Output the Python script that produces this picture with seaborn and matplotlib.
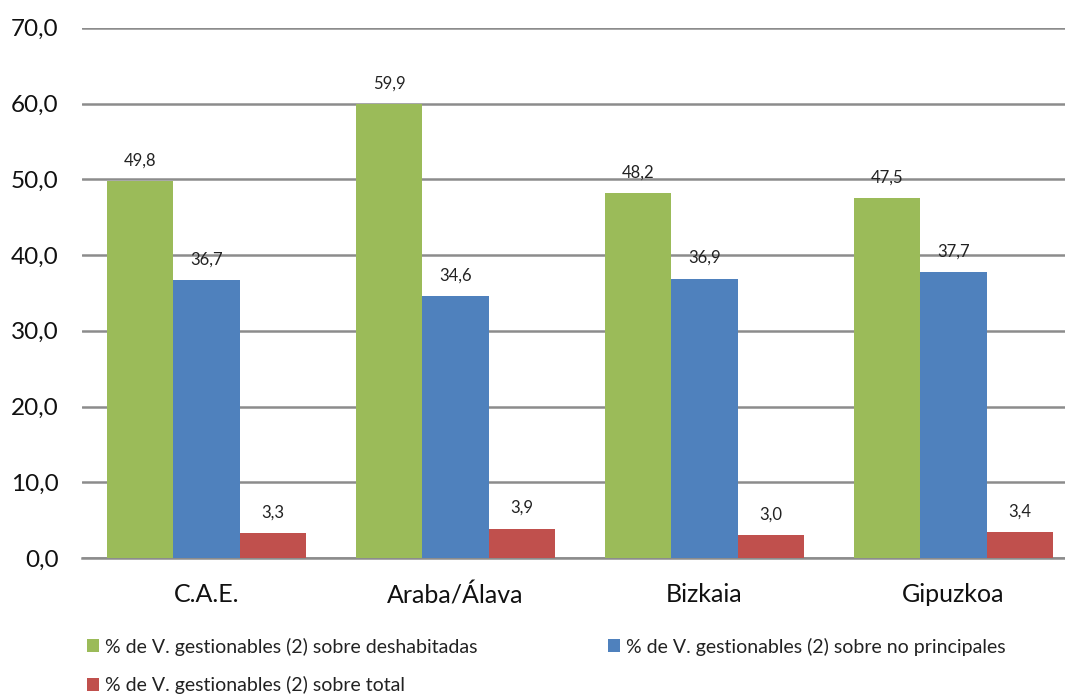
import matplotlib
matplotlib.use("Agg")
import matplotlib.pyplot as plt
import seaborn as sns
import pandas as pd
from matplotlib.patches import Patch

categories = ["C.A.E.", "Araba/Álava", "Bizkaia", "Gipuzkoa"]
series_names = [
    "% de V. gestionables (2) sobre deshabitadas",
    "% de V. gestionables (2) sobre no principales",
    "% de V. gestionables (2) sobre total",
]
deshabitadas = [49.8, 59.9, 48.2, 47.5]
no_principales = [36.7, 34.6, 36.9, 37.7]
total = [3.3, 3.9, 3.0, 3.4]
y_ticks = [0, 10, 20, 30, 40, 50, 60, 70]
colors = ["#9BBB59", "#4F81BD", "#C0504D"]

rows = []
for name, vals in zip(series_names, [deshabitadas, no_principales, total]):
    for c, v in zip(categories, vals):
        rows.append({"region": c, "serie": name, "valor": v})
df = pd.DataFrame(rows)

sns.set_theme(style="white")
plt.rcParams["font.family"] = ["Lato", "DejaVu Sans"]

fig = plt.figure(figsize=(10.65, 6.95), dpi=100)
ax = fig.add_axes([0.077, 0.197, 0.935, 0.763])

sns.barplot(data=df, x="region", y="valor", hue="serie", order=categories,
            hue_order=series_names, palette=colors, width=0.8, gap=0,
            saturation=1, legend=False, ax=ax, errorbar=None, zorder=3,
            linewidth=0, edgecolor="none")

for cont in ax.containers:
    ax.bar_label(cont, labels=[f"{b.get_height():.1f}".replace(".", ",") for b in cont],
                 padding=9, fontsize=12, color="#222222")

ax.set_xlim(-0.5, 3.5)
ax.set_ylim(0, 70)
ax.set_yticks(y_ticks)
ax.set_yticklabels([f"{t:.1f}".replace(".", ",") for t in y_ticks], fontsize=17.5)
ax.tick_params(axis="x", labelsize=18, pad=18, length=0)
ax.tick_params(axis="y", pad=17, length=0)
for t in ax.get_xticklabels() + ax.get_yticklabels():
    t.set_color("#111111")
ax.set_xlabel("")
ax.set_ylabel("")
ax.yaxis.grid(True, color="#8C8C8C", linewidth=1.8, zorder=0)
ax.set_axisbelow(True)
for s in ["top", "right", "left"]:
    ax.spines[s].set_visible(False)
ax.spines["bottom"].set_color("#8C8C8C")
ax.spines["bottom"].set_linewidth(1.8)

# column-major fill: green and red in the first column, blue in the second
order = [0, 2, 1]
handles = [Patch(facecolor=colors[i], edgecolor="none") for i in order]
labels = [series_names[i] for i in order]
fig.legend(handles, labels, ncol=2, loc="upper left",
           bbox_to_anchor=(0.074, 0.094), frameon=False, fontsize=14,
           handlelength=0.65, handleheight=0.65, handletextpad=0.3,
           columnspacing=6.7, labelspacing=1.05, borderaxespad=0,
           labelcolor="#222222")

fig.savefig("out.png", dpi=100)
